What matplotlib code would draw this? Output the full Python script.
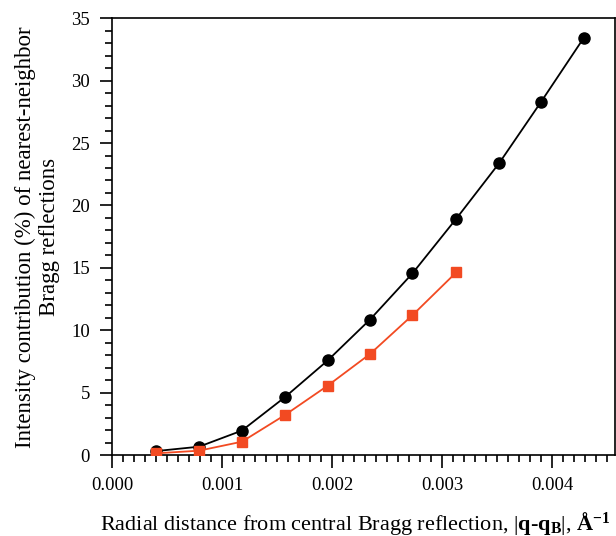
import matplotlib
matplotlib.use('Agg')
import matplotlib.pyplot as plt
from matplotlib.ticker import MultipleLocator, FormatStrFormatter

# radial distance |q - qB| (1/A)
x_black = [0.00040, 0.00079, 0.00118, 0.00157, 0.00196, 0.002345, 0.00273,
           0.00313, 0.00352, 0.00390, 0.00429]
y_black = [0.32, 0.67, 1.96, 4.63, 7.58, 10.86, 14.55, 18.95, 23.4, 28.3, 33.45]

x_red = [0.00040, 0.00079, 0.00118, 0.00157, 0.00196, 0.002345, 0.00273, 0.00313]
y_red = [0.14, 0.35, 1.07, 3.2, 5.56, 8.1, 11.2, 14.65]

plt.rcParams['font.family'] = 'Liberation Serif'
plt.rcParams['mathtext.fontset'] = 'custom'
plt.rcParams['mathtext.rm'] = 'Liberation Serif'
plt.rcParams['mathtext.bf'] = 'Liberation Serif:bold'
plt.rcParams['mathtext.it'] = 'Liberation Serif:italic'

fig = plt.figure(figsize=(6.16, 5.36), dpi=100)
ax = fig.add_axes([0.182, 0.151, 0.816, 0.815])

ax.plot(x_black, y_black, '-o', color='black', lw=1.3, ms=8, zorder=3)
ax.plot(x_red, y_red, '-s', color='#f24a22', mec='#f24a22', lw=1.3, ms=7.5, zorder=3)

ax.set_xlim(0, 0.00457)
ax.set_ylim(0, 35)
ax.xaxis.set_major_locator(MultipleLocator(0.001))
ax.xaxis.set_minor_locator(MultipleLocator(0.0001))
ax.xaxis.set_major_formatter(FormatStrFormatter('%.3f'))
ax.yaxis.set_major_locator(MultipleLocator(5))
ax.yaxis.set_minor_locator(MultipleLocator(1))

ax.tick_params(which='both', direction='out', top=False, right=False,
               labelsize=13.5, width=1.2)
ax.tick_params(which='major', length=9, pad=7)
ax.tick_params(which='minor', length=5)
for s in ax.spines.values():
    s.set_linewidth(1.2)

ax.set_xlabel(r'Radial distance from central Bragg reflection, '
              r'$|\mathbf{q}$-$\mathbf{q}_{\mathbf{B}}|$, $\mathbf{\AA}^{\mathbf{-1}}$',
              fontsize=16, ha='left', va='baseline')
ax.xaxis.set_label_coords(100 / 616, 6 / 536, transform=fig.transFigure)

ax.set_ylabel('Intensity contribution (%) of nearest-neighbor\nBragg reflections',
              fontsize=16.5, linespacing=1.2)
ax.yaxis.set_label_coords(60 / 616, (536 - 237) / 536, transform=fig.transFigure)

fig.savefig('out.png', dpi=100)
